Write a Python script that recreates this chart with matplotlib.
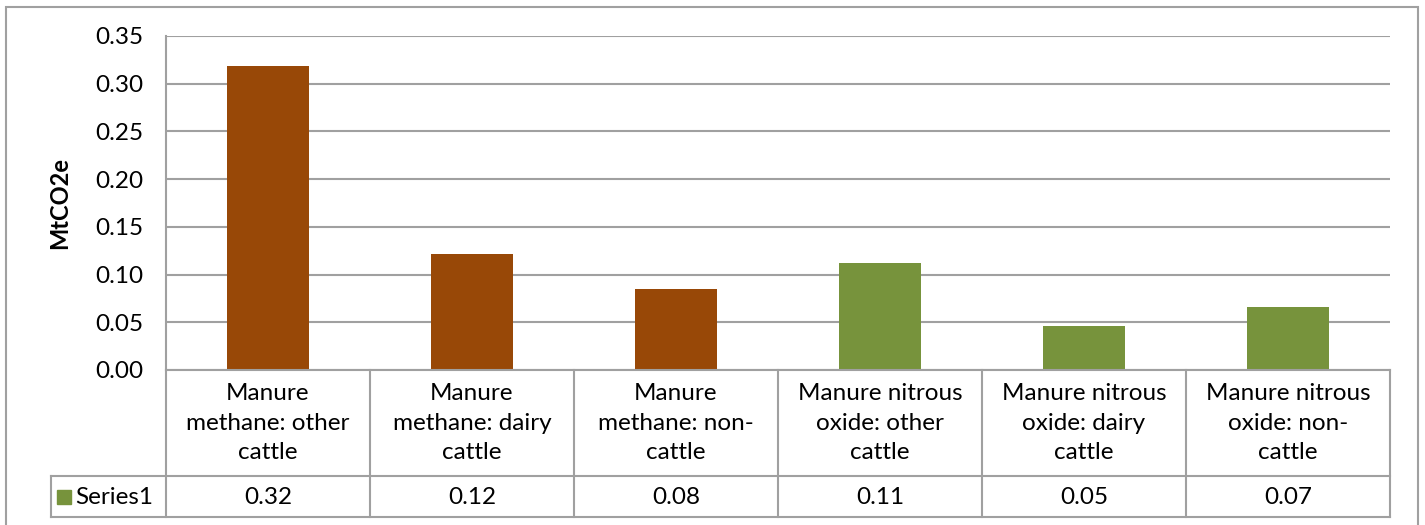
import matplotlib
matplotlib.use("Agg")
from matplotlib import pyplot as plt
from matplotlib.patches import Rectangle

categories = ["Manure\nmethane: other\ncattle", "Manure\nmethane: dairy\ncattle",
              "Manure\nmethane: non-\ncattle", "Manure nitrous\noxide: other\ncattle",
              "Manure nitrous\noxide: dairy\ncattle", "Manure nitrous\noxide: non-\ncattle"]
values = [0.319, 0.122, 0.085, 0.112, 0.046, 0.066]
value_labels = ["0.32", "0.12", "0.08", "0.11", "0.05", "0.07"]
bar_colors = ["#984807", "#984807", "#984807", "#77933C", "#77933C", "#77933C"]
series_name = "Series1"
y_ticks = [0.00, 0.05, 0.10, 0.15, 0.20, 0.25, 0.30, 0.35]

plt.rcParams['font.family'] = ['Lato', 'DejaVu Sans']
GRID = "#A0A0A0"
FS = 17.5
W, H = 1425, 525
fig = plt.figure(figsize=(W / 100, H / 100), dpi=100)

def px(x0, y0, x1, y1):
    return [x0 / W, 1 - y1 / H, (x1 - x0) / W, (y1 - y0) / H]

# outer chart frame
fig.patches.append(Rectangle((6 / W, -0.1), (1418 - 6) / W, 1 - 7 / H + 0.1,
                             transform=fig.transFigure, fill=False,
                             edgecolor=GRID, lw=1.5))

# main plot
ax = fig.add_axes(px(166, 36, 1390, 370))
x = range(len(values))
ax.bar(x, values, width=0.4, color=bar_colors, zorder=3)
ax.set_xlim(-0.5, len(values) - 0.5)
ax.set_ylim(0, 0.35)
ax.set_yticks(y_ticks)
ax.set_yticklabels(["{:.2f}".format(v) for v in y_ticks], fontsize=FS)
ax.tick_params(axis='y', length=0, pad=16)
ax.set_xticks([])
ax.yaxis.grid(True, color=GRID, lw=1.5, zorder=0)
for s in ["top", "right", "bottom"]:
    ax.spines[s].set_visible(False)
ax.spines["left"].set_color(GRID)
ax.spines["left"].set_linewidth(1.5)
ax.set_ylabel("MtCO2e", fontsize=17, fontweight="bold", labelpad=18)

# data table below
left_unit = -0.5 - (166 - 51) / 204.0
tab = fig.add_axes(px(51, 370, 1390, 517))
tab.set_xlim(left_unit, len(values) - 0.5)
tab.set_ylim(147, 0)
tab.axis("off")
kw = dict(color=GRID, lw=1.5, clip_on=False)
tab.plot([-0.5, len(values) - 0.5], [0, 0], **kw)
tab.plot([left_unit, len(values) - 0.5], [106, 106], **kw)
tab.plot([left_unit, len(values) - 0.5], [147, 147], **kw)
tab.plot([left_unit, left_unit], [106, 147], **kw)
for i in range(len(values) + 1):
    tab.plot([i - 0.5, i - 0.5], [0, 147], **kw)
for i, (c, v) in enumerate(zip(categories, value_labels)):
    tab.text(i, 53, c, ha="center", va="center", fontsize=FS, linespacing=1.5)
    tab.text(i, 127, v, ha="center", va="center", fontsize=FS)
tab.add_patch(Rectangle((left_unit + 0.03, 120), 0.07, 14, color="#77933C", clip_on=False))
tab.text(left_unit + 0.12, 127, series_name, ha="left", va="center", fontsize=FS)

fig.savefig("out.png", dpi=100)
